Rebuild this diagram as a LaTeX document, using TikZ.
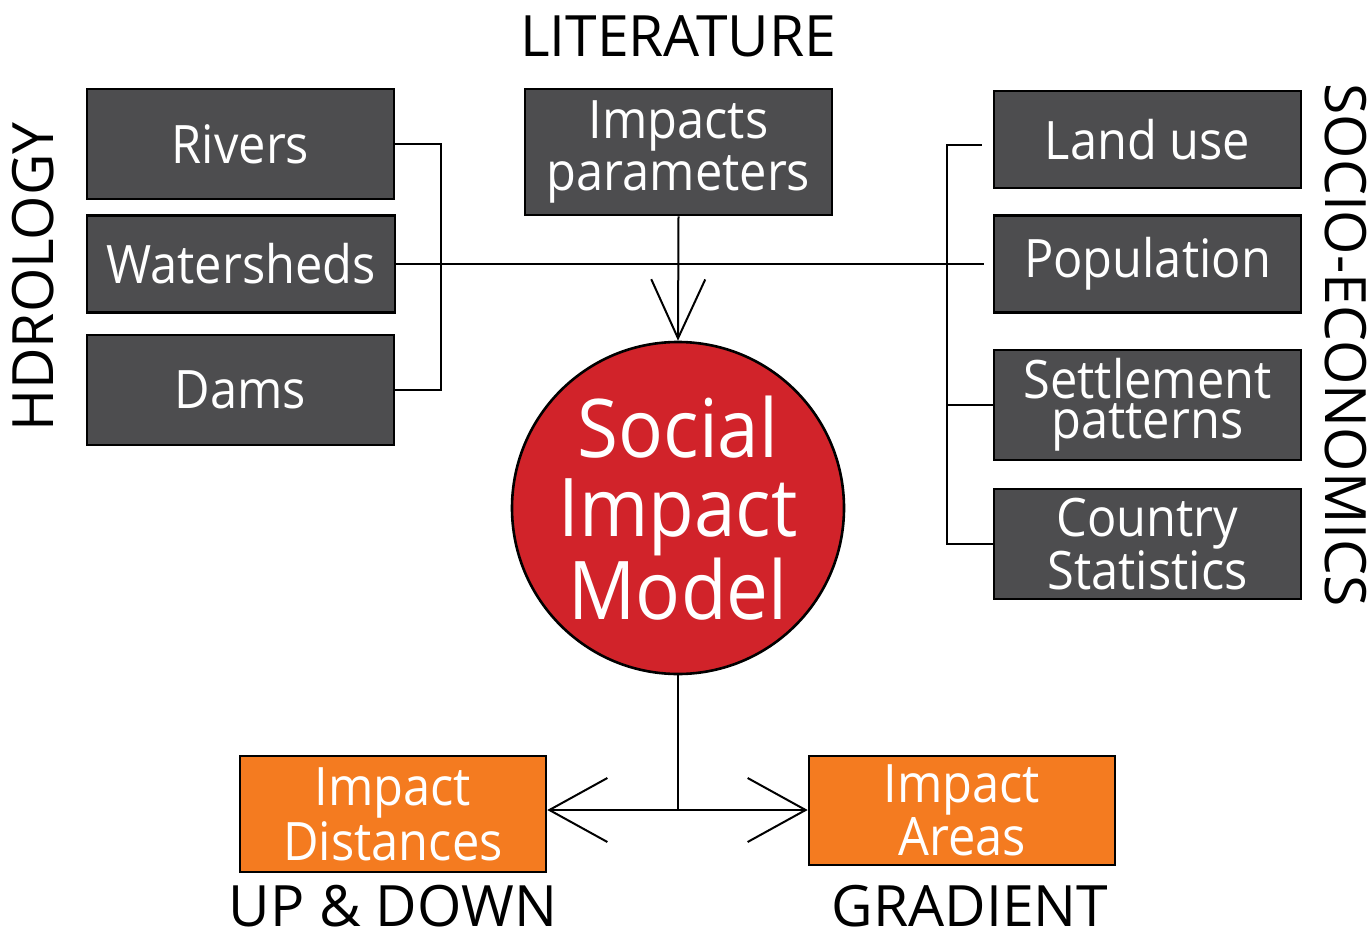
\documentclass[tikz,border=0pt]{standalone}
\usepackage{fontspec}
\setmainfont{Open Sans}[FakeStretch=0.92]
\newfontfamily\labelfont{Open Sans}
\usetikzlibrary{arrows.meta}
\definecolor{boxgray}{RGB}{77,77,79}
\definecolor{modelred}{RGB}{209,35,42}
\definecolor{outorange}{RGB}{244,123,32}
\begin{document}
\begin{tikzpicture}[x=0.5pt,y=-0.5pt,
  databox/.style={draw=black, line width=1.3pt, fill=boxgray, text=white, inner sep=0pt, align=center},
  outbox/.style={databox, fill=outorange},
  dims/.style 2 args={minimum width=#1*0.5pt, minimum height=#2*0.5pt},
  boxfont/.style={font=\fontsize{26.5pt}{#1}\selectfont},
  conn/.style={line width=1pt},
  lbl/.style={font=\labelfont\fontsize{28.5pt}{30pt}\selectfont, inner sep=0pt, anchor=base},
  vee/.style={-{Straight Barb[length=29.5pt, width=27pt]}},
  veeb/.style={{Straight Barb[length=29pt, width=32pt]}-{Straight Barb[length=29pt, width=32pt]}}
]
\useasboundingbox (0,0) rectangle (1371,931);

% boxes
\node[databox, dims={307}{110}, boxfont=26pt] (rivers) at (240.5,144) {Rivers};
\node[databox, dims={308}{97}, boxfont=26pt] (watersheds) at (241,264) {Watersheds};
\node[databox, dims={307}{110}, boxfont=26pt] (dams) at (240.5,390) {Dams};
\node[databox, dims={307}{126}, boxfont=26pt] (params) at (678.5,152) {Impacts\\parameters};
\node[databox, dims={307}{97}, boxfont=26pt] (landuse) at (1147.5,139.5) {Land use};
\node[databox, dims={307}{97}, boxfont=26pt] (population) at (1147.5,264) {Population};
\node[databox, dims={307}{110}, boxfont=20pt] (settle) at (1147.5,405) {Settlement\\patterns};
\node[databox, dims={307}{110}, boxfont=23pt] (country) at (1147.5,544) {Country\\Statistics};
\node[circle, draw=black, line width=1.3pt, fill=modelred, minimum size=166pt, inner sep=0pt,
      text=white, align=center, font=\fontsize{40.5pt}{39.5pt}\selectfont] (model) at (678,508) {Social\\Impact\\Model};
\node[outbox, dims={306}{116}, boxfont=27.5pt] (dist) at (393,814) {Impact\\Distances};
\node[outbox, dims={306}{109}, boxfont=24.5pt] (areas) at (962,810.5) {Impact\\Areas};

% labels
\node[lbl] (lit) at (678,57) {LITERATURE};
\node[lbl, rotate=90] (hydro) at (54,277) {HDROLOGY};
\node[lbl, rotate=-90] (socio) at (1325,345) {SOCIO-ECONOMICS};
\node[lbl] (updown) at (393,926) {UP \& DOWN};
\node[lbl] (grad) at (970,926) {GRADIENT};

% left bracket
\draw[conn] (rivers.east) -- ++(46,0) |- (dams.east);
% long horizontal
\draw[conn] (watersheds.east) -- ([xshift=-4.5pt]population.west);
% right bracket
\coordinate (rb) at (947,145);
\draw[conn] ([xshift=-5.5pt]landuse.west |- rb) -- (rb) -- (rb |- country.west) -- (country.west);
\draw[conn] (rb |- settle.west) -- (settle.west);
% literature arrow
\draw[conn, vee] (params.south) -- (model.north);
% outputs
\coordinate (j) at (678,810);
\draw[conn] (model.south) -- (j);
\draw[conn, veeb] (j -| dist.east) -- (j -| areas.west);
\end{tikzpicture}
\end{document}
